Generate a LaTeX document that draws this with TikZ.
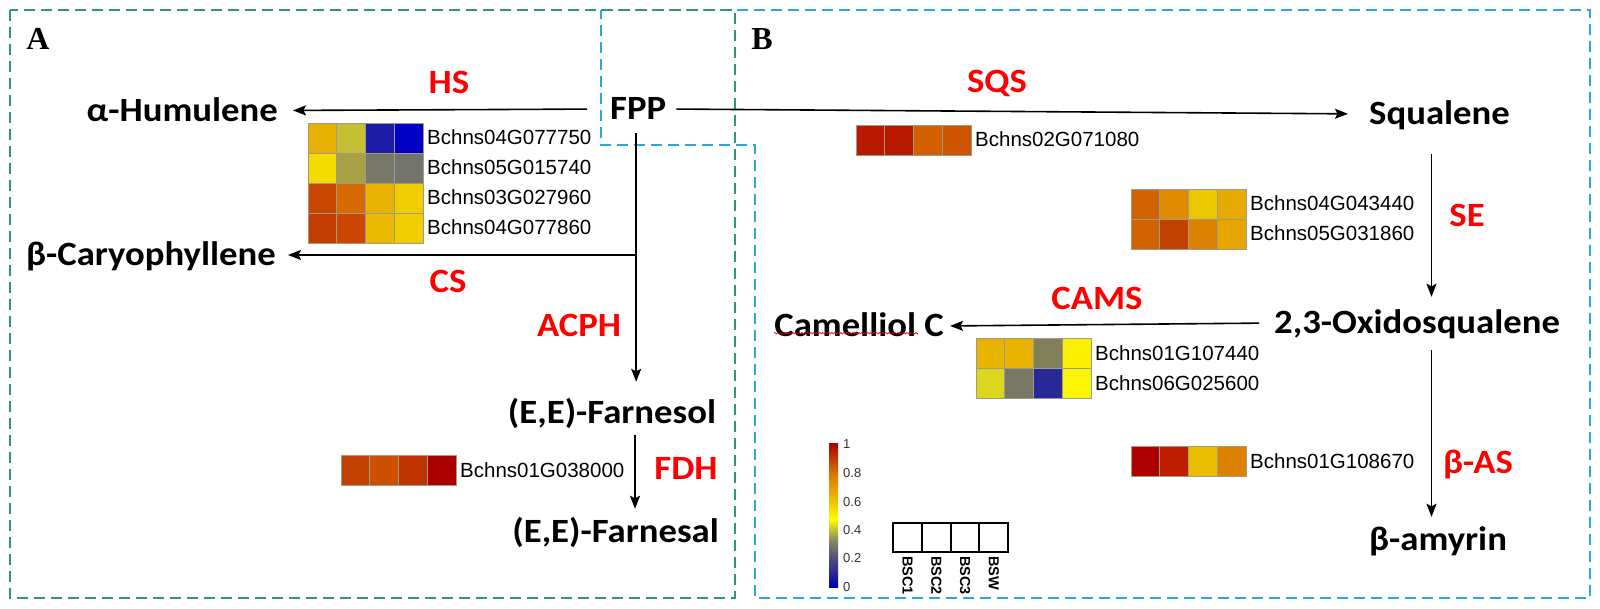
\documentclass[tikz,border=0pt]{standalone}
\usepackage{fontspec}
\usetikzlibrary{arrows.meta,decorations.pathmorphing}
\newfontfamily\carl{Carlito}[FakeStretch=1.08]
\newfontfamily\lsans{Liberation Sans}
\newfontfamily\lserif{Liberation Serif}
\definecolor{boxgreen}{HTML}{2E9A6A}
\definecolor{boxblue}{HTML}{2AA8DC}
\definecolor{labred}{HTML}{FF0000}
\definecolor{cellline}{HTML}{A09A88}
\definecolor{cbA}{HTML}{0000B4}
\definecolor{cbB}{HTML}{50507A}
\definecolor{cbC}{HTML}{8A8A60}
\definecolor{cbD}{HTML}{FFFF00}
\definecolor{cbE}{HTML}{F0C000}
\definecolor{cbF}{HTML}{DC7800}
\definecolor{cbG}{HTML}{AA0000}
\pgfdeclareverticalshading{cbar}{100bp}{color(0bp)=(cbA); color(25bp)=(cbA); color(35bp)=(cbB); color(41.5bp)=(cbC); color(48.5bp)=(cbD); color(55bp)=(cbE); color(64bp)=(cbF); color(75bp)=(cbG); color(100bp)=(cbG)}
\newcommand\hmrow[5]{%
  \foreach \c [count=\k from 0] in {#3}{%
    \edef\tmpcol{\noexpand\definecolor{hmc}{HTML}{\c}}\tmpcol
    \filldraw[fill=hmc,draw=cellline,line width=0.8pt] ({#1+\k*28.75},#2) rectangle ++(28.75,30);}
  \node[gene,anchor=west] (#4) at ({#1+119},{#2+15}) {#5};}
\tikzset{
  chem/.style={font={\carl\bfseries\fontsize{34}{36}\selectfont}, inner sep=0pt, text height=22pt, text depth=0pt},
  enz/.style={chem, text=labred},
  gene/.style={font={\lsans\fontsize{20.5}{22}\selectfont}, inner sep=0pt, text height=14pt, text depth=0pt},
  tick/.style={font={\lsans\fontsize{13}{14}\selectfont}, inner sep=0pt, anchor=west, text=black!80},
  sample/.style={font={\lsans\bfseries\fontsize{14.5}{15}\selectfont}, inner sep=0pt, rotate=-90, anchor=west},
  panel/.style={font={\lserif\bfseries\fontsize{32}{34}\selectfont}, inner sep=0pt},
  arr/.style={line width=1.6pt, -{Stealth[length=13pt,width=10pt,inset=2.5pt]}},
  gdash/.style={draw=boxgreen, line width=1.8pt, dash pattern=on 11pt off 6pt},
  bdash/.style={draw=boxblue, line width=1.8pt, dash pattern=on 11pt off 6pt},
}
\begin{document}
\begin{tikzpicture}[x=1pt,y=-1pt]
\useasboundingbox (0,0) rectangle (1600,609);
\fill[white] (0,0) rectangle (1600,609);
% dashed panels
\draw[bdash] (601,10) -- (1590,10) -- (1590,598) -- (755,598) -- (755,145) -- (601,145) -- cycle;
\draw[gdash] (10,10) rectangle (735,598);
\node[panel] (pa) at (38,39) {A};
\node[panel] (pb) at (762,39) {B};
% compounds
\node[chem,anchor=west] (fpp) at (610,109) {FPP};
\node[chem,anchor=east] (hum) at (278,110.5) {α-Humulene};
\node[chem,anchor=east] (car) at (276,255) {β-Caryophyllene};
\node[chem] (fol) at (612,412) {(E,E)-Farnesol};
\node[chem,anchor=east] (fal) at (719,531) {(E,E)-Farnesal};
\node[chem,anchor=west] (squ) at (1369,114) {Squalene};
\node[chem,anchor=west] (oxi) at (1274,323) {2,3-Oxidosqualene};
\node[chem,anchor=east] (cam) at (944,326) {Camelliol C};
\node[chem,anchor=west] (amy) at (1369,539) {β-amyrin};
% enzymes
\node[enz] (hs) at (449,83) {HS};
\node[enz] (cs) at (448,282) {CS};
\node[enz] (acph) at (579,326) {ACPH};
\node[enz] (fdh) at (686,468) {FDH};
\node[enz] (sqs) at (997,82) {SQS};
\node[enz] (se) at (1467,216) {SE};
\node[enz] (cams) at (1097,299) {CAMS};
\node[enz] (bas) at (1478,462) {β-AS};
% arrows
\draw[arr, shorten <=23pt, shorten >=15pt] (fpp.west) -- (hum.east);
\draw[arr, shorten <=10pt, shorten >=21pt] (fpp.east) -- (squ.west);
\draw[arr, shorten <=13pt, shorten >=19pt] ([xshift=-2pt]fpp.south) -- ([xshift=-2pt]fpp.south |- fol.north);
\draw[arr, shorten >=12pt] ([xshift=-2pt]fpp.south |- car.east) -- (car.east);
\draw[arr, shorten <=12pt, shorten >=11pt] ([xshift=23pt]fol.south) -- ([xshift=23pt]fol.south |- fal.north);
\draw[arr, shorten <=29pt, shorten >=15pt] ([xshift=-8pt]squ.south) -- ([xshift=-8pt]squ.south |- oxi.north);
\draw[arr, shorten <=15pt, shorten >=6pt] (oxi.west) -- (cam.east);
\draw[arr, shorten <=16pt, shorten >=11pt] ([xshift=-8pt]squ.south |- oxi.south) -- ([xshift=-8pt]squ.south |- amy.north);
% spell-check underline
\draw[red!85!black, line width=0.6pt, decorate, decoration={zigzag,segment length=3pt,amplitude=0.8pt}] ([yshift=4pt]cam.south west) -- ++(144,0);
% heatmaps
\hmrow{308}{123}{E8B000,C4BE32,1C1CA8,0000C8}{g1}{Bchns04G077750}
\hmrow{308}{153}{F5DC00,A8A046,787869,73736E}{g2}{Bchns05G015740}
\hmrow{308}{183}{C84600,D76900,E9B200,F0CD00}{g3}{Bchns03G027960}
\hmrow{308}{213}{C33C00,CD4600,EBB900,F0CD00}{g4}{Bchns04G077860}
\hmrow{341}{455}{C34100,CD5000,BE3200,AA0000}{g5}{Bchns01G038000}
\hmrow{856}{125}{B91900,B81800,D25F00,CD5500}{g6}{Bchns02G071080}
\hmrow{1131}{189}{D26400,E18C00,EBC800,E6AA00}{g7}{Bchns04G043440}
\hmrow{1131}{219}{D26400,C34100,DC8200,E6A500}{g8}{Bchns05G031860}
\hmrow{976}{338}{E8B400,E8B400,82805A,FAF000}{g9}{Bchns01G107440}
\hmrow{976}{368}{DCD71E,787864,282896,FAF500}{g10}{Bchns06G025600}
\hmrow{1131}{446}{AF0000,BE1E00,EBBE00,DC8200}{g11}{Bchns01G108670}
% colour bar
\shade[shading=cbar] (829,443) rectangle (838,587);
\node[tick] (t1) at (843,444) {1};
\node[tick] (t2) at (843,473) {0.8};
\node[tick] (t3) at (843,502) {0.6};
\node[tick] (t4) at (843,530) {0.4};
\node[tick] (t5) at (843,558) {0.2};
\node[tick] (t6) at (843,587) {0};
% sample legend
\foreach \k in {0,1,2,3}{\draw[line width=2pt] ({893+\k*28.75},523) rectangle ++(28.75,29);}
\node[sample] (s1) at (907.5,556) {BSC1};
\node[sample] (s2) at (936.3,556) {BSC2};
\node[sample] (s3) at (965,556) {BSC3};
\node[sample] (s4) at (993.8,556) {BSW};
\end{tikzpicture}
\end{document}
